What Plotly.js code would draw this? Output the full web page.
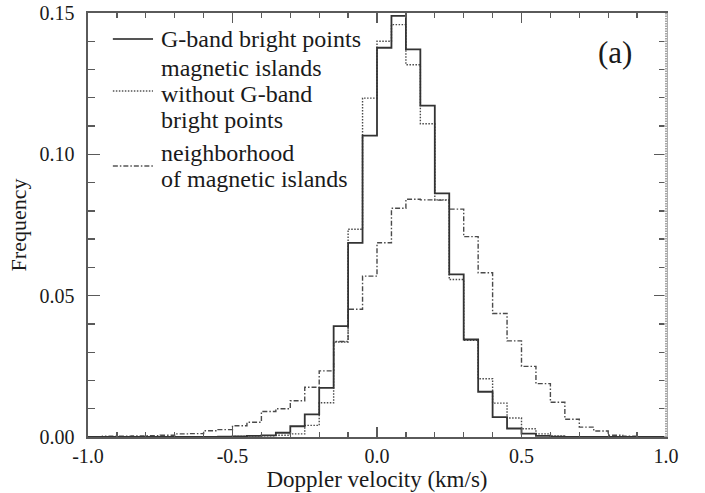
<!DOCTYPE html>
<html>
<head>
<meta charset="utf-8">
<script src="https://cdn.plot.ly/plotly-3.0.1.min.js"></script>
<style>html,body{margin:0;padding:0;background:#fff;}#chart{width:705px;height:493px;}</style>
</head>
<body>
<div id="chart"></div>
<script>
// Histogram bins: left edge of first bin and bin width (km/s)
const binStart = -1.0;
const binWidth = 0.05;

// Series names
const seriesNames = [
  "G-band bright points",
  "magnetic islands<br>without G-band<br>bright points",
  "neighborhood<br>of magnetic islands"
];

// Frequencies per bin, bins from -1.00 to 1.00 in steps of 0.05
const gbandBP = [
  0, 0, 0, 0, 0, 0, 0, 0, 0, 0.0001,
  0.0002, 0.0004, 0.0006, 0.0015, 0.0038, 0.0080, 0.0174, 0.0392, 0.0687, 0.1066,
  0.1377, 0.1490, 0.1371, 0.1172, 0.0862, 0.0575, 0.0345, 0.0160, 0.0070, 0.0030,
  0.0012, 0.0004, 0.0001, 0, 0, 0, 0, 0, 0, 0
];
const islandsNoBP = [
  0, 0, 0, 0, 0, 0, 0, 0, 0, 0.0001,
  0.0002, 0.0004, 0.0004, 0.0006, 0.0011, 0.0041, 0.0121, 0.0336, 0.0735, 0.1199,
  0.1400, 0.1459, 0.1317, 0.1108, 0.0839, 0.0557, 0.0342, 0.0206, 0.0120, 0.0067,
  0.0029, 0.0011, 0.0004, 0.0001, 0, 0, 0, 0, 0, 0
];
const neighborhood = [
  0.0001, 0.0003, 0.0003, 0.0004, 0.0005, 0.0006, 0.0011, 0.0012, 0.0022, 0.0026,
  0.0040, 0.0052, 0.0090, 0.0100, 0.0128, 0.0176, 0.0234, 0.0338, 0.0452, 0.0569,
  0.0687, 0.0809, 0.0841, 0.0839, 0.0838, 0.0806, 0.0709, 0.0581, 0.0437, 0.0340,
  0.0250, 0.0189, 0.0123, 0.0063, 0.0035, 0.0021, 0.0006, 0.0003, 0.0001, 0
];

// Tick labels
const xTickVals = [-1.0, -0.5, 0.0, 0.5, 1.0];
const xTickText = ["-1.0", "-0.5", "0.0", "0.5", "1.0"];
const yTickVals = [0, 0.05, 0.10, 0.15];
const yTickText = ["0.00", "0.05", "0.10", "0.15"];

function stepTrace(vals, name, line) {
  const x = vals.map((_, i) => binStart + i * binWidth);
  x.push(binStart + vals.length * binWidth);
  const y = vals.concat([vals[vals.length - 1]]);
  return { x: x, y: y, type: 'scatter', mode: 'lines', name: name,
           line: Object.assign({ shape: 'hv' }, line), hoverinfo: 'x+y' };
}

const serif = "Liberation Serif, 'Times New Roman', Times, serif";
const axisColor = '#5a5a5a';

const traces = [
  stepTrace(neighborhood, seriesNames[2], { color: '#4a4a4a', width: 1.4, dash: '5px,2px,1.5px,2px' }),
  stepTrace(islandsNoBP, seriesNames[1], { color: '#4a4a4a', width: 1.4, dash: '1.5px,1.5px' }),
  stepTrace(gbandBP, seriesNames[0], { color: '#333333', width: 1.8 })
];

// legend placement (paper coords)
const legX0 = 0.043, legX1 = 0.1125, legTextX = 0.1225;
const legendRows = [
  { lineY: 0.9387, dash: 'solid', width: 1.8, color: '#555555',
    lines: [["G-band bright points", 0.9387]] },
  { lineY: 0.8160, dash: '1.5px,1.5px', width: 1.4, color: '#555555',
    lines: [["magnetic islands", 0.8703], ["without G-band", 0.8090], ["bright points", 0.7465]] },
  { lineY: 0.6392, dash: '5px,2px,1.5px,2px', width: 1.4, color: '#555555',
    lines: [["neighborhood", 0.6698], ["of magnetic islands", 0.6085]] }
];

const annotations = [];
const shapes = [];
legendRows.forEach(r => {
  shapes.push({ type: 'line', xref: 'paper', yref: 'paper', x0: legX0, x1: legX1, y0: r.lineY, y1: r.lineY,
                line: { color: r.color, width: r.width, dash: r.dash } });
  r.lines.forEach(l => annotations.push({
    xref: 'paper', yref: 'paper', x: legTextX, y: l[1], xanchor: 'left', yanchor: 'middle',
    text: l[0], showarrow: false, font: { family: serif, size: 24, color: '#1a1a1a' }
  }));
});
annotations.push({ xref: 'paper', yref: 'paper', x: 0.9125, y: 0.908, xanchor: 'center', yanchor: 'middle',
  text: '(a)', showarrow: false, font: { family: serif, size: 31, color: '#1a1a1a' } });

// right frame drawn dotted
shapes.push({ type: 'line', xref: 'paper', yref: 'paper', x0: 1, x1: 1, y0: 0, y1: 1, layer: 'above',
  line: { color: '#ffffff', width: 3 } });
shapes.push({ type: 'line', xref: 'paper', yref: 'paper', x0: 1, x1: 1, y0: 0, y1: 1, layer: 'above',
  line: { color: '#777777', width: 1.3, dash: '1.5px,1px' } });

const layout = {
  width: 705, height: 493,
  margin: { l: 88, r: 39, t: 13, b: 56, pad: 0 },
  paper_bgcolor: '#ffffff', plot_bgcolor: '#ffffff',
  showlegend: false,
  font: { family: serif, size: 20, color: '#1a1a1a' },
  xaxis: {
    range: [-1.0, 1.0], fixedrange: true,
    tickmode: 'array', tickvals: xTickVals, ticktext: xTickText,
    ticks: 'inside', ticklen: 10, tickwidth: 1.3, tickcolor: axisColor,
    minor: { dtick: 0.1, tick0: 0, ticks: 'inside', ticklen: 5, tickwidth: 1.3, tickcolor: axisColor },
    showline: true, linecolor: axisColor, linewidth: 1.6, mirror: 'allticks',
    showgrid: false, zeroline: false,
    tickfont: { family: serif, size: 20, color: '#1a1a1a' },
    title: { text: 'Doppler velocity (km/s)', font: { family: serif, size: 23, color: '#1a1a1a' }, standoff: 0 }
  },
  yaxis: {
    range: [0, 0.15], fixedrange: true,
    tickmode: 'array', tickvals: yTickVals, ticktext: yTickText,
    ticks: 'inside', ticklen: 12, tickwidth: 1.3, tickcolor: axisColor,
    minor: { dtick: 0.01, tick0: 0, ticks: 'inside', ticklen: 7, tickwidth: 1.3, tickcolor: axisColor },
    showline: true, linecolor: axisColor, linewidth: 1.6, mirror: 'allticks',
    showgrid: false, zeroline: false,
    ticklabelstandoff: 8,
    tickfont: { family: serif, size: 20, color: '#1a1a1a' },
    title: { text: 'Frequency', font: { family: serif, size: 22, color: '#1a1a1a' }, standoff: 7 }
  },
  annotations: annotations,
  shapes: shapes
};

Plotly.newPlot('chart', traces, layout, { staticPlot: true, displayModeBar: false });
</script>
</body>
</html>
